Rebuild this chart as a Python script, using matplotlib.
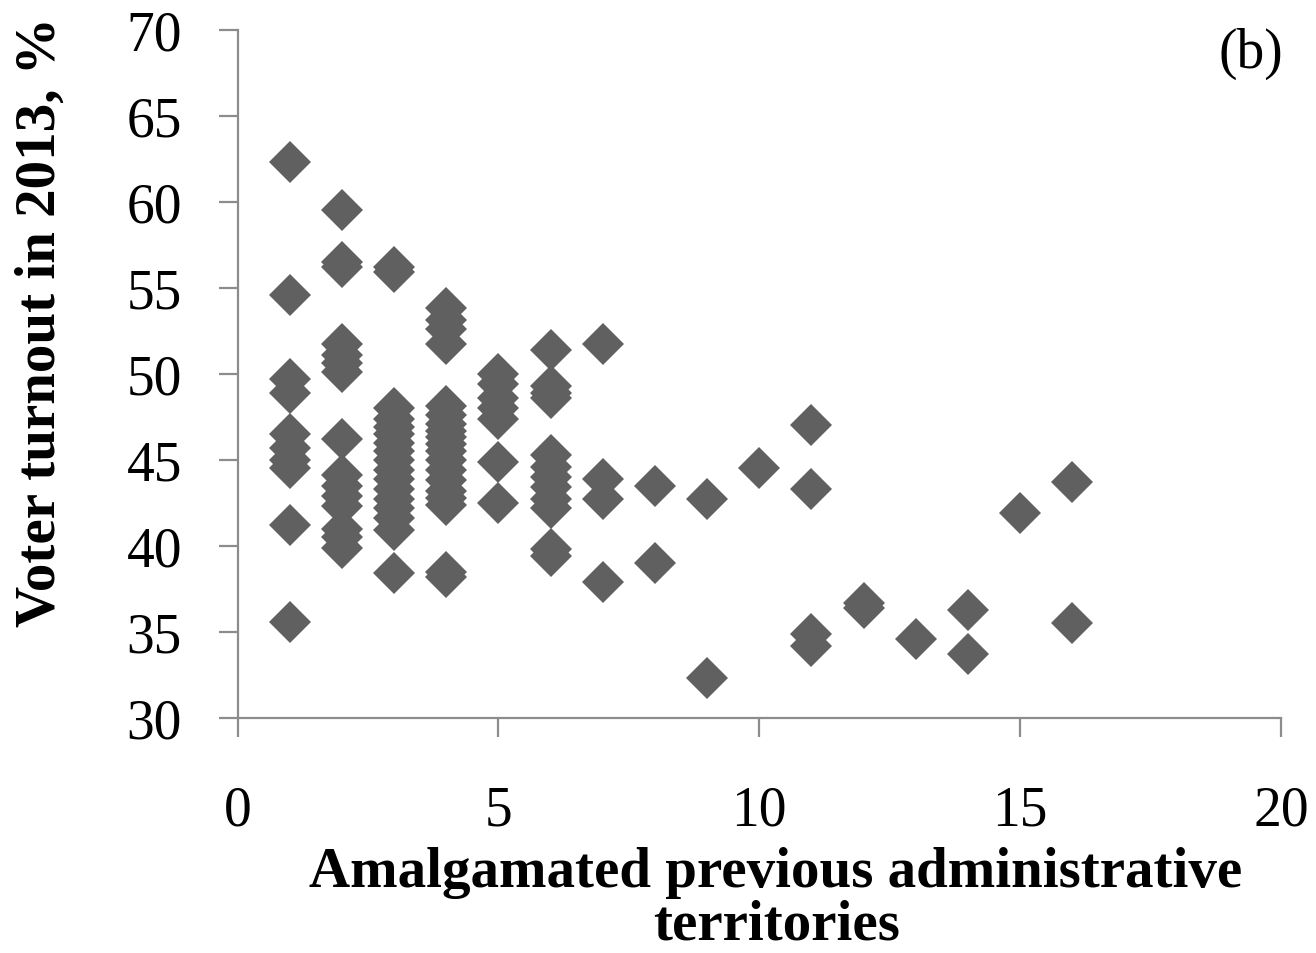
import matplotlib
matplotlib.use("Agg")
import matplotlib.pyplot as plt

# Number of amalgamated previous administrative territories
territories = (
    [1] * 10 + [2] * 15 + [3] * 17 + [4] * 19 + [5] * 7 + [6] * 12 +
    [7] * 4 + [8] * 2 + [9] * 2 + [10] * 1 + [11] * 4 + [12] * 2 +
    [13] * 1 + [14] * 2 + [15] * 1 + [16] * 2
)
# Voter turnout in 2013, %
turnout = [
    62.3, 54.6, 49.7, 48.9, 46.5, 45.7, 45.0, 44.5, 41.2, 35.6,
    59.5, 56.5, 56.2, 51.7, 51.1, 50.6, 50.1, 46.2, 44.1, 43.5, 42.9, 42.3, 41.0, 40.5, 39.9,
    56.2, 55.9, 48.0, 47.4, 46.9, 46.5, 46.0, 45.5, 45.0, 44.4, 43.9, 43.3, 42.7, 42.2, 41.6, 40.9, 38.4,
    53.8, 53.1, 52.6, 51.7, 48.1, 47.6, 47.1, 46.7, 46.3, 45.9, 45.5, 45.0, 44.4, 43.8, 43.2, 42.8, 42.4, 38.5, 38.2,
    50.0, 49.4, 48.6, 48.0, 47.4, 44.9, 42.5,
    51.4, 49.3, 48.9, 48.6, 45.3, 44.6, 44.0, 43.4, 42.7, 42.2, 39.8, 39.4,
    51.7, 43.9, 42.7, 37.9,
    43.5, 39.0,
    42.7, 32.3,
    44.5,
    47.0, 43.3, 34.9, 34.2,
    36.7, 36.4,
    34.6,
    36.3, 33.7,
    41.9,
    43.7, 35.5,
]

x_ticks = [0, 5, 10, 15, 20]
y_ticks = [30, 35, 40, 45, 50, 55, 60, 65, 70]
x_label_lines = ["Amalgamated previous administrative", "territories"]
y_label = "Voter turnout in 2013, %"
panel_label = "(b)"

W, H = 1316, 954
fig = plt.figure(figsize=(W / 100, H / 100), dpi=100)
ax = fig.add_axes([237.5 / W, 1 - 719 / H, (1281 - 237.5) / W, (719 - 30.5) / H])

ax.plot(territories, turnout, linestyle="none", marker="D", markersize=21,
        color="#606060", markeredgewidth=0, clip_on=False)

ax.set_xlim(0, 20)
ax.set_ylim(30, 70)
ax.set_xticks(x_ticks)
ax.set_yticks(y_ticks)

for s in ["top", "right"]:
    ax.spines[s].set_visible(False)
for s in ["left", "bottom"]:
    ax.spines[s].set_color("#8c8c8c")
    ax.spines[s].set_linewidth(1.6)

ax.tick_params(axis="both", direction="out", color="#8c8c8c", width=1.6, length=14)
ax.tick_params(axis="x", pad=34)
ax.tick_params(axis="y", pad=26)
for lab in ax.get_xticklabels() + ax.get_yticklabels():
    lab.set_fontfamily("Liberation Serif")
    lab.set_fontsize(40)
    lab.set_color("black")

label_font = dict(family="Liberation Serif", size=41, weight="bold", color="black")
fig.text(776 / W, 1 - 887 / H, x_label_lines[0], ha="center", va="baseline", **label_font)
fig.text(777 / W, 1 - 940 / H, x_label_lines[1], ha="center", va="baseline", **label_font)
fig.text(55 / W, 1 - 322 / H, y_label, rotation=90, rotation_mode="anchor",
         ha="center", va="baseline", **label_font)

fig.text(1283 / W, 1 - 68 / H, panel_label, ha="right", va="baseline",
         family="Liberation Serif", size=40, color="black")

fig.savefig("out.png", dpi=100, facecolor="white")
